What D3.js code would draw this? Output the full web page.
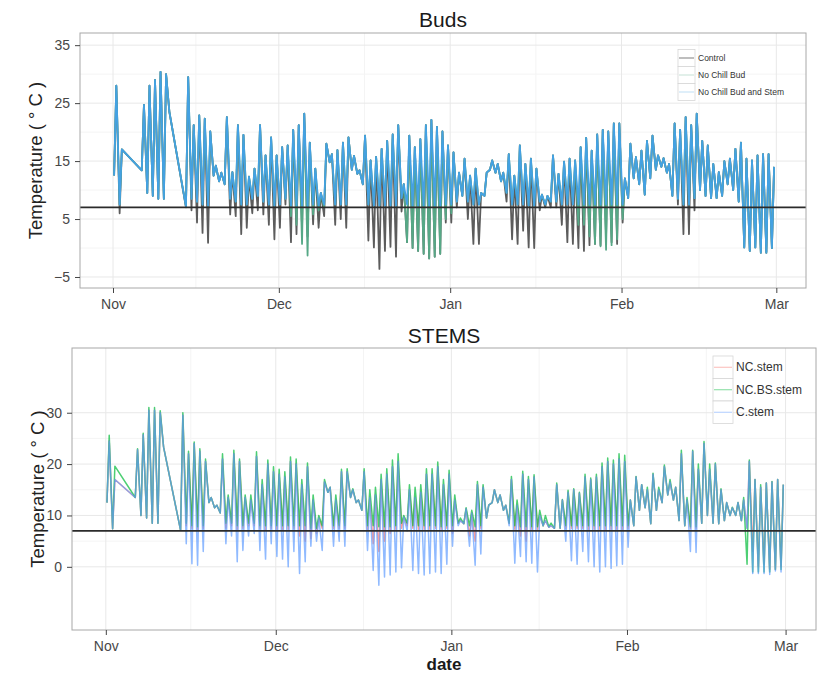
<!DOCTYPE html>
<html>
<head>
<meta charset="utf-8">
<script src="https://cdn.jsdelivr.net/npm/d3@7"></script>
<style>
  body { margin: 0; background: #fff; }
  svg text { font-family: Arial, "Liberation Sans", sans-serif; }
</style>
</head>
<body>
<svg width="821" height="677"></svg>
<script>
// one entry per day, starting 1 Nov 2013 (index 0) up to 28 Feb 2014 (index 119)
// daily minimum (early morning) and maximum (afternoon), null = no record
var startDay = "2013-11-01";
var monthTicks = ["2013-11-01", "2013-12-01", "2014-01-01", "2014-02-01", "2014-03-01"];
var budNames = ["Control", "No Chill Bud", "No Chill Bud and Stem"];
var stemNames = ["NC.stem", "NC.BS.stem", "C.stem"];
var budTicks = [35, 25, 15, 5, -5];
var stemTicks = [30, 20, 10, 0];
var chillLine = 7;

// ---- Buds ----
var budMax = [
  28, 17, null, null, null, 24.7, 28, 29, 30.4, 30,
  null, null, null, 29.5, 21.2, 22.9, 22.3, 20.1, 14.2, 13,
  22.6, 13.1, 21.2, 19.5, 12.3, 13.7, 21.2, 16, 19.1, 16,
  17.4, 17.7, 20.4, 21.2, 23.2, 18.2, 13.7, 9.5, 18, 16.2,
  16.9, 18.2, 19.1, 15.9, 13.4, 19.4, 15.1, 15.7, 17.1, 18.5,
  19.6, 21.2, 11, 19.4, 17.4, 18.8, 21.2, 22.1, 20.9, 20.1,
  17.7, 16.5, 13, 15.4, 12.5, 13.7, 9.5, 13, 15.1, 14.5,
  13, 16.2, 12.5, 17.7, 14.5, 15.4, 13.7, 9.2, 9, 16,
  12.8, 14.9, 15.4, 15.1, 17.4, 19, 16.8, 19.6, 20.4, 20.1,
  21.5, 21.5, 12, 18, 15.7, 16.8, 18.5, 19.4, 16, 15.5,
  14.5, 21.5, 20.4, 22.6, 21.2, 23.2, 18.5, 17.7, 14.5, 13.1,
  15, 15.4, 17.1, 18.2, 15.4, 15.1, 16, 16.2, 16.2, 14
];
var budMinControl = [
  12.5, 6, null, null, null, 13.4, 9.5, 9, 8.5, 8.5,
  23.5, null, null, 7, 6.5, 4.4, 2.6, 0.9, 12.5, 11.5,
  11, 5.8, 5.5, 2.4, 3.5, 6, 6.5, 5.8, 4, 1.5,
  3.5, 7.5, 1, 2.4, 3.5, 2, 4.1, 3.5, 5.5, 14.8,
  4, 5, 3.5, 13.5, 12.8, 11, 1.3, 0.1, -3.6, -0.5,
  0.2, -1.5, 6.3, 1, 0, -0.5, -1, -1.8, -1.5, -1,
  4.4, 4.4, 7, 9, 5, 0.7, 0.7, 9, 13.5, 13,
  11.5, 8, 1.5, 0.7, 3, 0.1, 0, 6.5, 7, 7,
  7, 4, 1, 0.7, 0, -0.5, 0.5, 0.7, 0.5, 2,
  1, 0.7, 4.4, 8.6, 12, 11, 9.2, 12, 13.5, 14,
  13, 9, 7.5, 2.4, 2.4, 6.5, 10, 9, 8.6, 8.6,
  9, 11, 10, 8, 0.1, -0.5, 0.1, -0.8, -0.8, 0
];
var budMinNoChill = [
  12.5, 7.5, null, null, null, 13.4, 9.5, 9, 8.5, 8.5,
  23.5, null, null, 7.2, 8.5, 8, 7.5, 7.3, 12.5, 11.5,
  11, 8.5, 8, 7.5, 7.5, 8.5, 9, 8, 7.5, 7.3,
  7.5, 8.5, 5.5, 4, 0.7, -1.3, 5.8, 6.5, 7, 14.8,
  7.5, 7.5, 7.5, 13.5, 12.8, 11, 7.5, 7.3, 7.3, 7.3,
  7.3, 7.3, 8.6, 1, 0, -0.5, -1, -1.8, -1.5, -1,
  5, 6, 8, 9, 8, 7.5, 7.5, 9, 13.5, 13,
  11.5, 9.5, 7.5, 7.5, 7.5, 7.3, 7.3, 8, 7.5, 8,
  8, 7.5, 7.5, 7.5, 4, 4, 2, 0.7, 0.3, -0.3,
  0.5, 1.5, 5, 8.6, 12, 11, 9.2, 12, 13.5, 14,
  13, 9, 8.5, 7.5, 7.5, 8.6, 10, 9, 8.6, 8.6,
  9, 11, 10, 8, 0.1, -0.5, 0.1, -0.8, -0.8, 0
];
var budMinNoChillStem = [
  12.5, 7.5, null, null, null, 13.4, 9.5, 9, 8.5, 8.5,
  23.5, null, null, 7.2, 8.5, 8, 7.5, 7.3, 12.5, 11.5,
  11, 8.5, 8, 7.5, 7.5, 8.5, 9, 8, 7.5, 7.3,
  7.5, 8.5, 7.3, 7.3, 7.3, 7.2, 7.5, 7.3, 7.5, 14.8,
  7.5, 7.5, 7.5, 13.5, 12.8, 11, 7.5, 7.3, 7.3, 7.3,
  7.3, 7.3, 8.6, 7.5, 7.3, 7.3, 7.3, 7.3, 7.3, 7.3,
  7.5, 7.5, 8, 9, 8, 7.5, 7.5, 9, 13.5, 13,
  11.5, 9.5, 7.5, 7.5, 7.5, 7.3, 7.3, 8, 7.5, 8,
  8, 7.5, 7.5, 7.5, 7.5, 7.5, 7.5, 7.5, 7.5, 7.5,
  7.5, 7.5, 7.5, 8.6, 12, 11, 9.2, 12, 13.5, 14,
  13, 9, 8.5, 7.5, 7.5, 8.6, 10, 9, 8.6, 8.6,
  9, 11, 10, 8, 0.1, -0.5, 0.1, -0.8, -0.8, 0
];

// ---- Stems ----
var stemMaxC = [
  24.5, 17, null, null, null, 22.8, 25.7, 30.5, 30.5, 30,
  null, null, null, 29.5, 22, 24, 22.5, 20.5, 13.5, 12,
  21, 13.5, 22, 20.5, 13.5, 13, 21.5, 16, 20, 18.5,
  18, 17.5, 20.5, 20, 16, 19.5, 13, 9.5, 16.5, 15.5,
  13, 18.5, 18.5, 15, 13, 18.5, 13.5, 14, 17, 18,
  19.5, 20.5, 9.7, 15, 13.5, 14.5, 18, 18, 19.5, 16,
  18, 13, 9, 11.3, 10.5, 16, 15.5, 12, 15, 14,
  12, 17, 12, 18, 17, 17.5, 10, 9, 8, 16,
  13, 14.5, 15, 14.3, 17.5, 17, 17.5, 19.5, 20.5, 20,
  21, 20.5, 13, 17.5, 16, 15, 18, 15, 19.5, 16.5,
  15.5, 22, 13, 22.5, 19, 24, 19, 20, 15, 12.5,
  11.5, 12.5, 13, 20.5, 17, 15.5, 16.3, 16.5, 17, 16
];
var stemMaxNCBS = [
  25.6, 19.6, null, null, null, 23, 26, 31, 31, 30.4,
  null, null, null, 30, 22.5, 24.3, 23, 21, 13.5, 12,
  22, 14, 22.7, 21, 14, 14, 22.4, 17, 20.8, 19.5,
  19, 18.5, 21.4, 21, 17, 20.2, 14, 10, 17, 15.5,
  14, 19, 19.1, 15.2, 13, 19.1, 15, 15.5, 18, 19.1,
  20.8, 22, 10, 16, 15.5, 16, 19.1, 19.1, 20.4, 17,
  18.8, 14, 9.5, 11.5, 11, 16.6, 16, 12, 15, 14,
  12, 17.6, 13, 18.6, 17.6, 17.9, 11, 10, 8.5, 16.3,
  13.1, 14.9, 15.2, 14.5, 18, 17.3, 18, 20.2, 21.2, 20.8,
  22, 21.7, 13, 17.6, 16, 15.5, 18.2, 15.5, 19.8, 17,
  15.5, 22.7, 13.5, 22.7, 20, 24.4, 20, 20.2, 15.2, 12.5,
  11.6, 12.5, 13.5, 20.8, 17, 16, 16.3, 16.6, 17, 16
];
var stemMinC = [
  12.5, 7.4, null, null, null, 13.5, 10, 9.5, 8.5, 8.5,
  23.3, null, null, 7.1, 4.5, 0.6, 0.3, 3, 12.5, 11.5,
  10.5, 4.5, 6, 1, 3.2, 6, 6.5, 3.2, 1.5, 4.5,
  2, 1.5, 0, 3, -1.3, 1, 4, 5, 3.2, 14.5,
  4, 5, 4, 13.5, 12.5, 11, 3.2, -0.7, -3.6, -2,
  -1.6, -1, -0.2, 7, -0.7, -1.3, -1.6, -1.3, -1, -1.3,
  0.5, 4, 8, 8.4, 4, 0.3, 2.5, 9.5, 12.5, 12.5,
  11, 8, 0.7, 2, 1, 0.7, -1, 8, 7.7, 7.5,
  7.5, 5, 1.2, 0.5, 3, 1, 0, -1, 0, -0.3,
  0.2, 0.5, 3.8, 8, 11, 11.5, 8.4, 11, 12.5, 14,
  13, 9, 8, 3, 2.8, 8.5, 10, 8.5, 8.4, 9,
  10, 10, 9, 7.5, -1.3, -1.3, -1.3, -1.5, -0.8, -1
];
var stemMinNC = [
  12.5, 7.4, null, null, null, 13.5, 10, 9.5, 8.5, 8.5,
  23.3, null, null, 7.1, 8, 7.5, 7.3, 7.5, 12.5, 11.5,
  10.5, 7.5, 8, 7.3, 7.5, 8, 8, 7.5, 7.3, 7.5,
  7.3, 7.3, 7.3, 7.5, 6, 5, 5.5, 6.5, 7.5, 14.5,
  7.5, 7.5, 7.5, 13.5, 12.5, 11, 7.3, 4.5, 3, 5,
  6.5, 7.3, 7.5, 8, 7.5, 7.3, 7.3, 7.3, 7.5, 7.3,
  7.5, 6.5, 8.5, 8.4, 6, 5, 7.5, 9.5, 12.5, 12.5,
  11, 8.5, 7.3, 6, 5, 7.3, 7.3, 8, 7.7, 7.5,
  7.5, 7.5, 7.5, 7.5, 7.5, 7.3, 7.3, 7.3, 7.3, 7.3,
  7.3, 7.3, 7.5, 8, 11, 11.5, 8.4, 11, 12.5, 14,
  13, 9, 8, 7.5, 7.5, 8.5, 10, 8.5, 8.4, 9,
  10, 10, 9, 7.5, 3, 0, 0.5, -0.5, -0.5, 0
];
var stemMinNCBS = [
  12.5, 7.4, null, null, null, 13.5, 10, 9.5, 8.5, 8.5,
  23.3, null, null, 7.1, 8.5, 8, 7.8, 8, 12.5, 11.5,
  10.5, 8.5, 8.5, 8, 8, 8.5, 8.5, 8, 8, 8,
  8, 8, 8, 8, 8, 8, 7.5, 7.5, 8, 14.5,
  8, 8, 8, 13.5, 12.5, 11, 8, 8, 7.8, 7.8,
  7.8, 8, 8.5, 8.5, 8, 8, 8, 8, 8, 7.8,
  8, 8, 8.5, 8.4, 8, 7.8, 8, 9.5, 12.5, 12.5,
  11, 8.5, 8, 7.8, 7.8, 7.8, 7.8, 8, 7.8, 7.5,
  7.5, 8, 8, 8, 8, 8, 8, 8, 8, 8,
  8, 8, 8, 8, 11, 11.5, 8.4, 11, 12.5, 14,
  13, 9, 8, 7.8, 7.8, 8.5, 10, 8.5, 8.4, 9,
  10, 10, 9, 0.5, -1, -1, -1, -1, -0.5, -0.5
];

var svg = d3.select("svg");
var parseDay = d3.utcParse("%Y-%m-%d");
var t0 = parseDay(startDay);
function at(d) { return new Date(t0.getTime() + d * 864e5); }

// turn the daily min / max into a time ordered list of points
function dailyPoints(maxArr, minArr) {
  var pts = [];
  maxArr.forEach(function(mx, i) {
    if (minArr[i] != null) pts.push({t: at(i + 0.2), v: minArr[i]});
    if (mx != null) pts.push({t: at(i + 0.6), v: mx});
  });
  return pts;
}

function drawPanel(p) {
  var x = d3.scaleUtc().domain(p.xDomain).range([p.left, p.right]);
  var y = d3.scaleLinear().domain(p.yDomain).range([p.bottom, p.top]);
  var g = svg.append("g");
  var months = monthTicks.map(parseDay);

  // panel background + grid
  g.append("rect").attr("x", p.left).attr("y", p.top)
    .attr("width", p.right - p.left).attr("height", p.bottom - p.top)
    .attr("fill", "#fff");
  var minorX = d3.pairs(months).map(function(m) { return new Date((m[0].getTime() + m[1].getTime()) / 2); });
  g.selectAll(".vminor").data(minorX).enter().append("line")
    .attr("x1", function(d) { return x(d); }).attr("x2", function(d) { return x(d); })
    .attr("y1", p.top).attr("y2", p.bottom).attr("stroke", "#f4f4f4").attr("stroke-width", 1);
  g.selectAll(".hminor").data(p.minorY).enter().append("line")
    .attr("x1", p.left).attr("x2", p.right)
    .attr("y1", function(d) { return y(d); }).attr("y2", function(d) { return y(d); })
    .attr("stroke", "#f4f4f4").attr("stroke-width", 1);
  g.selectAll(".vmajor").data(months).enter().append("line")
    .attr("x1", function(d) { return x(d); }).attr("x2", function(d) { return x(d); })
    .attr("y1", p.top).attr("y2", p.bottom).attr("stroke", "#e8e8e8").attr("stroke-width", 1);
  g.selectAll(".hmajor").data(p.yTicks).enter().append("line")
    .attr("x1", p.left).attr("x2", p.right)
    .attr("y1", function(d) { return y(d); }).attr("y2", function(d) { return y(d); })
    .attr("stroke", "#e8e8e8").attr("stroke-width", 1);

  // series
  var line = d3.line().x(function(d) { return x(d.t); }).y(function(d) { return y(d.v); });
  p.series.forEach(function(s) {
    g.append("path").datum(s.pts)
      .attr("d", line).attr("fill", "none")
      .attr("stroke", s.color).attr("stroke-width", p.lineWidth)
      .attr("stroke-opacity", s.opacity)
      .attr("stroke-linejoin", "round");
  });

  // 7 degree reference line
  g.append("line").attr("x1", p.left).attr("x2", p.right)
    .attr("y1", y(chillLine)).attr("y2", y(chillLine))
    .attr("stroke", "#2b2b2b").attr("stroke-width", 1.7);

  g.append("rect").attr("x", p.left).attr("y", p.top)
    .attr("width", p.right - p.left).attr("height", p.bottom - p.top)
    .attr("fill", "none").attr("stroke", "#a8a8a8").attr("stroke-width", 1);

  // axes
  var ax = g.append("g").attr("transform", "translate(0," + p.bottom + ")")
    .call(d3.axisBottom(x).tickValues(months).tickFormat(d3.utcFormat("%b")).tickSize(5).tickPadding(6));
  var ay = g.append("g").attr("transform", "translate(" + p.left + ",0)")
    .call(d3.axisLeft(y).tickValues(p.yTicks).tickSize(5).tickPadding(5));
  [ax, ay].forEach(function(a) {
    a.select(".domain").remove();
    a.selectAll(".tick line").attr("stroke", "#444");
    a.selectAll("text").attr("fill", "#474747").style("font-size", "14px");
  });

  g.append("text").attr("x", (p.left + p.right) / 2).attr("y", p.titleY)
    .attr("text-anchor", "middle").style("font-size", "21px").attr("fill", "#1a1a1a")
    .text(p.title);
  g.append("text")
    .attr("transform", "translate(" + p.yTitleX + "," + ((p.top + p.bottom) / 2) + ") rotate(-90)")
    .attr("text-anchor", "middle").attr("dy", "0.35em")
    .style("font-size", "18.5px").attr("fill", "#222")
    .text("Temperature ( \u00b0 C )");

  // legend
  var lg = g.append("g").attr("transform", "translate(" + p.legend.x + "," + p.legend.y + ")");
  p.series.forEach(function(s, i) {
    var row = lg.append("g").attr("transform", "translate(0," + (i * p.legend.key) + ")");
    row.append("rect").attr("width", p.legend.keyW).attr("height", p.legend.key)
      .attr("fill", "#fff").attr("stroke", "#d6d6d6").attr("stroke-width", 0.8);
    row.append("line").attr("x1", 1).attr("x2", p.legend.keyW - 1)
      .attr("y1", p.legend.key / 2).attr("y2", p.legend.key / 2)
      .attr("stroke", s.color).attr("stroke-opacity", s.keyOpacity).attr("stroke-width", 1);
    row.append("text").attr("x", p.legend.keyW + 3).attr("y", p.legend.key / 2)
      .attr("dy", "0.35em").style("font-size", p.legend.font).attr("fill", "#333")
      .text(s.name);
  });
}

var budSeries = [
  {name: budNames[0], color: "#5c5c5c", opacity: 1, keyOpacity: 0.8, pts: dailyPoints(budMax, budMinControl)},
  {name: budNames[1], color: "#56a886", opacity: 1, keyOpacity: 0.35, pts: dailyPoints(budMax, budMinNoChill)},
  {name: budNames[2], color: "#44a1e2", opacity: 1, keyOpacity: 0.35, pts: dailyPoints(budMax, budMinNoChillStem)}
];
var stemSeries = [
  {name: stemNames[0], color: "#F8766D", opacity: 0.7, keyOpacity: 0.5, pts: dailyPoints(stemMaxC, stemMinNC)},
  {name: stemNames[1], color: "#00BA38", opacity: 0.7, keyOpacity: 0.5, pts: dailyPoints(stemMaxNCBS, stemMinNCBS)},
  {name: stemNames[2], color: "#619CFF", opacity: 0.7, keyOpacity: 0.5, pts: dailyPoints(stemMaxC, stemMinC)}
];

// ggplot-like 5% expansion around the recorded period
var span = [at(0), at(119.4)];
var pad = (span[1] - span[0]) * 0.05;
var xDomain = [new Date(span[0].getTime() - pad), new Date(span[1].getTime() + pad)];

drawPanel({
  title: "Buds", titleY: 27, yTitleX: 36,
  left: 80, right: 806, top: 33, bottom: 288,
  xDomain: xDomain, yDomain: [-6.9, 37.1],
  yTicks: budTicks, minorY: [30, 20, 10, 0],
  lineWidth: 1.8, series: budSeries,
  legend: {x: 678, y: 49.5, key: 17, keyW: 17, font: "8.5px"}
});
drawPanel({
  title: "STEMS", titleY: 343, yTitleX: 38,
  left: 72, right: 816, top: 348, bottom: 630,
  xDomain: xDomain, yDomain: [-12.3, 42.6],
  yTicks: stemTicks, minorY: [25, 15, 5],
  lineWidth: 1.5, series: stemSeries,
  legend: {x: 713, y: 356, key: 22.5, keyW: 20, font: "12px"}
});

svg.append("text").attr("x", 444).attr("y", 670)
  .attr("text-anchor", "middle").style("font-size", "17px").style("font-weight", "bold")
  .attr("fill", "#1a1a1a").text("date");
</script>
</body>
</html>
